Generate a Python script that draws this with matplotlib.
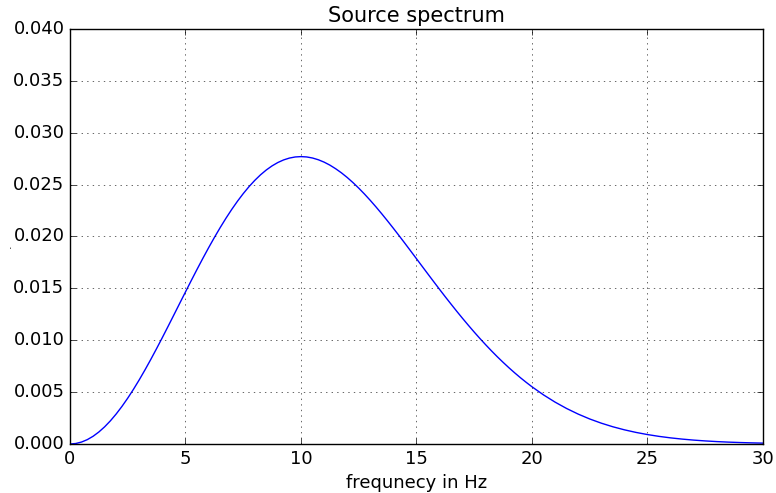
import matplotlib
matplotlib.use('Agg')
import matplotlib.pyplot as plt

# frequency samples (Hz) and spectrum amplitude
freq = [0, 0.25, 0.5, 0.75, 1, 1.25, 1.5, 1.75, 2, 2.25, 2.5, 2.75, 3, 3.25, 3.5, 3.75,
        4, 4.25, 4.5, 4.75, 5, 5.25, 5.5, 5.75, 6, 6.25, 6.5, 6.75, 7, 7.25, 7.5, 7.75,
        8, 8.25, 8.5, 8.75, 9, 9.25, 9.5, 9.75, 10, 10.25, 10.5, 10.75, 11, 11.25, 11.5,
        11.75, 12, 12.25, 12.5, 12.75, 13, 13.25, 13.5, 13.75, 14, 14.25, 14.5, 14.75,
        15, 15.25, 15.5, 15.75, 16, 16.25, 16.5, 16.75, 17, 17.25, 17.5, 17.75, 18,
        18.25, 18.5, 18.75, 19, 19.25, 19.5, 19.75, 20, 20.5, 21, 21.5, 22, 22.5, 23,
        23.5, 24, 24.5, 25, 25.5, 26, 26.5, 27, 27.5, 28, 28.5, 29, 29.5, 30]
amp = [0.0, 0.000047, 0.000188, 0.000421, 0.000745, 0.001158, 0.001656, 0.002236,
       0.002894, 0.003624, 0.004421, 0.005280, 0.006193, 0.007156, 0.008160, 0.009200,
       0.010266, 0.011353, 0.012453, 0.013558, 0.014660, 0.015754, 0.016832, 0.017887,
       0.018912, 0.019902, 0.020850, 0.021753, 0.022603, 0.023398, 0.024133, 0.024805,
       0.025410, 0.025948, 0.026414, 0.026809, 0.027132, 0.027382, 0.027559, 0.027665,
       0.027700, 0.027666, 0.027564, 0.027397, 0.027168, 0.026880, 0.026532, 0.026137,
       0.025690, 0.025196, 0.024661, 0.024088, 0.023480, 0.022843, 0.022179, 0.021492,
       0.020788, 0.020069, 0.019339, 0.018599, 0.017856, 0.017112, 0.016370, 0.015633,
       0.014901, 0.014178, 0.013472, 0.012774, 0.012094, 0.011432, 0.010785, 0.010159,
       0.009555, 0.008970, 0.008407, 0.007871, 0.007353, 0.006860, 0.006388, 0.005942,
       0.005515, 0.004732, 0.004036, 0.003421, 0.002882, 0.002412, 0.002008, 0.001661,
       0.001367, 0.001118, 0.000909, 0.000734, 0.000590, 0.000472, 0.000375, 0.000296,
       0.000232, 0.000181, 0.000141, 0.000109, 0.0000836]

xticks = [0, 5, 10, 15, 20, 25, 30]
yticks = [0.000, 0.005, 0.010, 0.015, 0.020, 0.025, 0.030, 0.035, 0.040]

plt.style.use('classic')
plt.rcParams['font.family'] = 'DejaVu Sans'

fig = plt.figure(figsize=(7.76, 4.93), dpi=100, facecolor='white')
ax = fig.add_axes([0.0902, 0.0994, 0.8930, 0.8418])
ax.plot(freq, amp, color='b', linewidth=1.0)
ax.set_xlim(0, 30)
ax.set_ylim(0, 0.04)
ax.set_xticks(xticks)
ax.set_yticks(yticks)
ax.set_yticklabels(['%.3f' % v for v in yticks])
ax.tick_params(labelsize=13)
ax.grid(True, color='k', linestyle=':', linewidth=0.6, alpha=0.7)
ax.set_title('Source spectrum', fontsize=15)
ax.set_xlabel('frequnecy in Hz', fontsize=13)
fig.text(0.004, 0.5, '.', fontsize=8, rotation=90, va='center')

fig.savefig('out.png', dpi=100, facecolor='white')
